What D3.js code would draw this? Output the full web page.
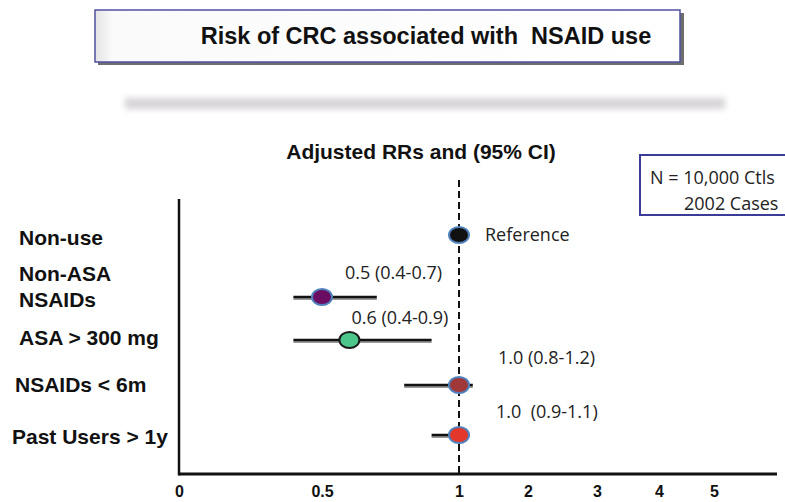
<!DOCTYPE html>
<html>
<head>
<meta charset="utf-8">
<script src="https://cdn.jsdelivr.net/npm/d3@7"></script>
<style>
  html, body { margin: 0; padding: 0; background: #fff; }
  svg { display: block; }
  text { white-space: pre; }
</style>
</head>
<body>
<svg id="chart" width="785" height="502"></svg>
<script>
// Exposure groups and adjusted relative risks with 95% CI
const categories = ["Non-use", "Non-ASA NSAIDs", "ASA > 300 mg", "NSAIDs < 6m", "Past Users > 1y"];
const categoryLines = [["Non-use"], ["Non-ASA", "NSAIDs"], ["ASA > 300 mg"], ["NSAIDs < 6m"], ["Past Users > 1y"]];
const rr    = [1.0, 0.5, 0.6, 1.0, 1.0];
const ciLow = [null, 0.4, 0.4, 0.8, 0.9];
const ciHigh= [null, 0.7, 0.9, 1.2, 1.1];
const valueLabels = ["Reference", "0.5 (0.4-0.7)", "0.6 (0.4-0.9)", "1.0 (0.8-1.2)", "1.0  (0.9-1.1)"];
const markerColors = ["#111111", "#6a0d62", "#4cc68a", "#a0383a", "#e3372b"];
const markerStrokes = ["#4f81bd", "#4f81bd", "#1a1a1a", "#4f81bd", "#4f81bd"];
const tickValues = [0, 0.5, 1, 2, 3, 4, 5];
const tickLabels = ["0", "0.5", "1", "2", "3", "4", "5"];

const svg = d3.select("#chart");
const boldFont = "'Liberation Sans', Arial, sans-serif";
const plainFont = "'Open Sans', 'Noto Sans', sans-serif";

// Broken (piecewise) horizontal scale: 0–1 stretched, 1–5 compressed
const x = d3.scaleLinear()
  .domain(tickValues)
  .range([179, 322, 459, 528, 597, 659, 714]);

// Row positions for each exposure group
const y = d3.scaleOrdinal()
  .domain(categories)
  .range([235, 297, 340, 385, 435]);

const defs = svg.append("defs");
const blur = defs.append("filter").attr("id", "soft")
  .attr("x", "-10%").attr("y", "-200%").attr("width", "120%").attr("height", "500%");
blur.append("feGaussianBlur").attr("stdDeviation", 3);
const grad = defs.append("linearGradient").attr("id", "boxfill")
  .attr("x1", "0").attr("x2", "1").attr("y1", "0").attr("y2", "0");
grad.append("stop").attr("offset", "0").attr("stop-color", "#e4e4e4");
grad.append("stop").attr("offset", "0.03").attr("stop-color", "#fafafa");
grad.append("stop").attr("offset", "1").attr("stop-color", "#ffffff");

// Title panel with drop shadow
svg.append("rect").attr("x", 98).attr("y", 13).attr("width", 586).attr("height", 52)
  .attr("fill", "#6e6e6e");
svg.append("rect").attr("x", 95).attr("y", 10).attr("width", 585).attr("height", 52)
  .attr("fill", "url(#boxfill)").attr("stroke", "#5050a0").attr("stroke-width", 1.5);
svg.append("text").attr("x", 426).attr("y", 44)
  .attr("text-anchor", "middle")
  .style("font", `bold 23.5px ${boldFont}`)
  .attr("fill", "#111").text("Risk of CRC associated with  NSAID use");

// Soft grey divider bar
svg.append("rect").attr("x", 125).attr("y", 98).attr("width", 600).attr("height", 11)
  .attr("fill", "#d6d3d6").attr("filter", "url(#soft)");

// Subtitle
svg.append("text").attr("x", 421).attr("y", 159)
  .attr("text-anchor", "middle")
  .style("font", `bold 21px ${boldFont}`)
  .attr("fill", "#111").text("Adjusted RRs and (95% CI)");

// Sample-size box
svg.append("rect").attr("x", 640).attr("y", 155).attr("width", 150).attr("height", 60)
  .attr("fill", "#fff").attr("stroke", "#3b3b98").attr("stroke-width", 2);
svg.append("text").attr("x", 650).attr("y", 184)
  .style("font", `18px ${plainFont}`).attr("fill", "#222")
  .text("N = 10,000 Ctls");
svg.append("text").attr("x", 684).attr("y", 210)
  .style("font", `18px ${plainFont}`).attr("fill", "#222")
  .text("2002 Cases");

// Axes
const axisY = 474;
svg.append("line").attr("x1", 179).attr("x2", 179).attr("y1", 199).attr("y2", axisY + 1.5)
  .attr("stroke", "#111").attr("stroke-width", 2.5);
const xAxis = d3.axisBottom(x).tickValues(tickValues)
  .tickFormat((d, i) => tickLabels[i]).tickSize(0).tickPadding(12);
const gx = svg.append("g").attr("transform", `translate(0,${axisY})`).call(xAxis);
gx.select(".domain").remove();
gx.append("line").attr("x1", 179).attr("x2", 777).attr("stroke", "#111").attr("stroke-width", 3);
gx.selectAll(".tick text")
  .style("font", `bold 16px ${boldFont}`)
  .attr("fill", "#111");

// Null-effect reference line at RR = 1
svg.append("line").attr("x1", x(1)).attr("x2", x(1)).attr("y1", 180).attr("y2", axisY)
  .attr("stroke", "#111").attr("stroke-width", 2).attr("stroke-dasharray", "7,4");

// Group labels on the left
const labelX = [19, 19, 19, 15, 12];
const labelDy = [[10], [-16, 10], [5], [7], [9]];
categories.forEach((c, i) => {
  const t = svg.append("text")
    .style("font", `bold 21px ${boldFont}`)
    .attr("fill", "#111");
  categoryLines[i].forEach((ln, j) => {
    t.append("tspan").attr("x", labelX[i]).attr("y", y(c) + labelDy[i][j]).text(ln);
  });
});

// Confidence-interval whiskers
const rows = categories.map((c, i) => ({ c, rr: rr[i], lo: ciLow[i], hi: ciHigh[i], i }));
const ciRows = rows.filter(d => d.lo !== null);
svg.selectAll("line.ci-shadow").data(ciRows).join("line").attr("class", "ci-shadow")
  .attr("x1", d => x(d.lo)).attr("x2", d => x(d.hi))
  .attr("y1", d => y(d.c) + 2).attr("y2", d => y(d.c) + 2)
  .attr("stroke", "#9a9a9a").attr("stroke-width", 2);
svg.selectAll("line.ci").data(ciRows).join("line").attr("class", "ci")
  .attr("x1", d => x(d.lo)).attr("x2", d => x(d.hi))
  .attr("y1", d => y(d.c)).attr("y2", d => y(d.c))
  .attr("stroke", "#111").attr("stroke-width", 2.5);

// Point estimates
svg.selectAll("ellipse.pt").data(rows).join("ellipse").attr("class", "pt")
  .attr("cx", d => x(d.rr)).attr("cy", d => y(d.c))
  .attr("rx", 10).attr("ry", 8)
  .attr("fill", d => markerColors[d.i])
  .attr("stroke", d => markerStrokes[d.i]).attr("stroke-width", 2);

// Value annotations
const annDx = [26, 23, 2, 39, 37];
const annDy = [6, -18, -16, -21, -17];
svg.selectAll("text.ann").data(rows).join("text").attr("class", "ann")
  .attr("x", d => x(d.rr) + annDx[d.i])
  .attr("y", d => y(d.c) + annDy[d.i])
  .style("font", `18px ${plainFont}`)
  .attr("fill", "#222")
  .text(d => valueLabels[d.i]);
</script>
</body>
</html>
